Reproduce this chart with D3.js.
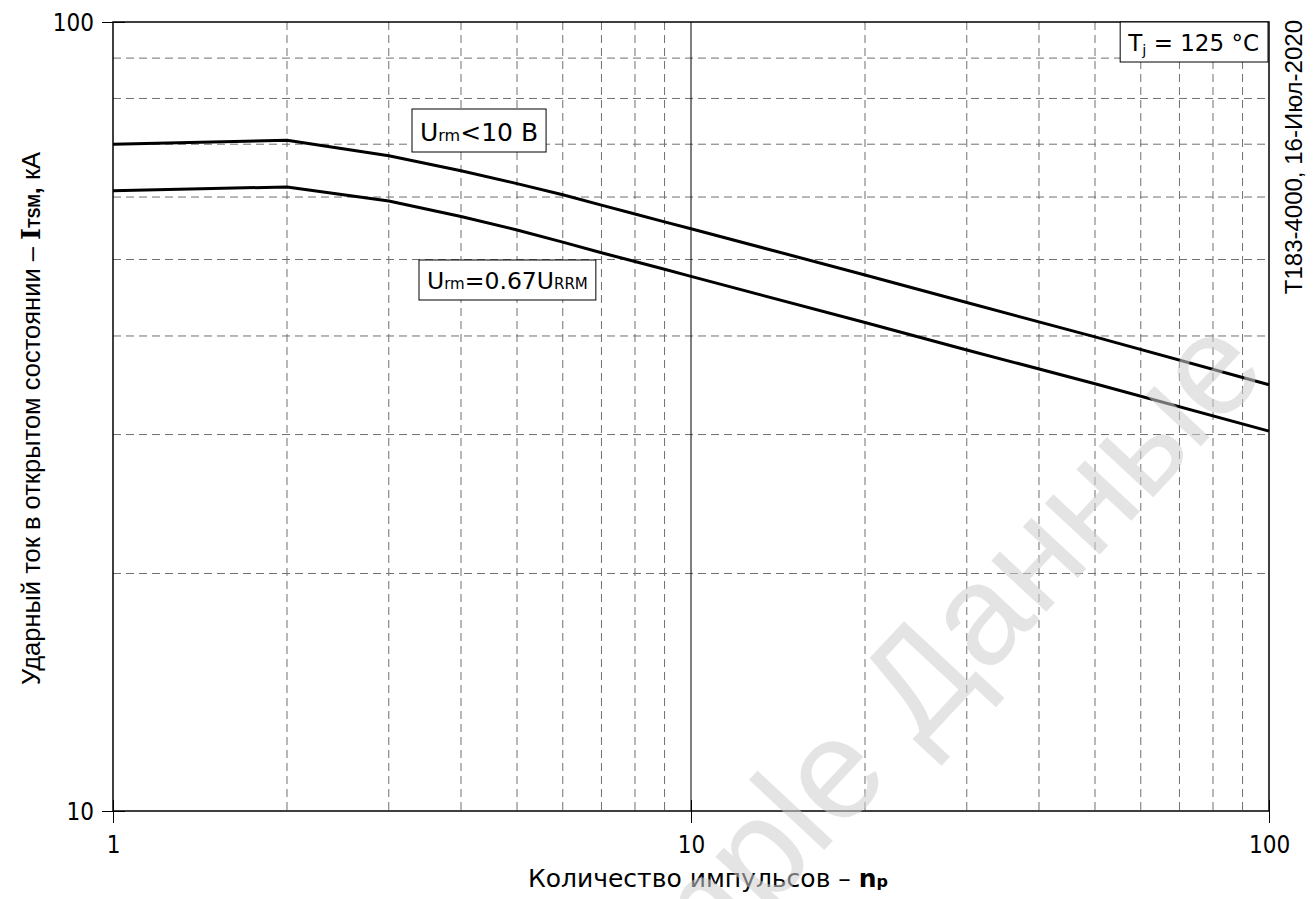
<!DOCTYPE html>
<html>
<head>
<meta charset="utf-8">
<script src="https://cdn.jsdelivr.net/npm/d3@7"></script>
<style>
  body { margin: 0; background: #fff; }
  svg { display: block; }
  .tick-label { font-family: "DejaVu Sans Condensed", "DejaVu Sans", sans-serif; font-size: 24px; fill: #000; }
</style>
</head>
<body>
<svg id="canvas" width="1314" height="899"></svg>
<script>
// number of pulses
let pulses = [1, 2, 3, 4, 5, 6, 7, 8, 9, 10, 20, 30, 50, 100];
// surge current, kA, Urm < 10 V
let itsmLow = [70.0, 70.8, 67.7, 64.8, 62.4, 60.4, 58.6, 57.1, 55.8, 54.7, 47.8, 44.1, 39.9, 34.7];
// surge current, kA, Urm = 0.67 URRM
let itsmHigh = [61.1, 61.8, 59.3, 56.7, 54.5, 52.6, 51.0, 49.7, 48.6, 47.6, 41.6, 38.4, 34.8, 30.3];

let xTicks = [1, 10, 100];
let yTicks = [10, 100];
let xGrid = [2, 3, 4, 5, 6, 7, 8, 9, 20, 30, 40, 50, 60, 70, 80, 90];
let yGrid = [20, 30, 40, 50, 60, 70, 80, 90];

let margin = { left: 113, top: 22, right: 45, bottom: 88 };
let width = 1314, height = 899;

let canvas = d3.select("#canvas");

let xScale = d3.scaleLog().domain([1, 100]).range([margin.left, width - margin.right]);
let yScale = d3.scaleLog().domain([10, 100]).range([height - margin.bottom, margin.top]);

let x0 = xScale.range()[0], x1 = xScale.range()[1];
let y0 = yScale.range()[0], y1 = yScale.range()[1];

// dashed grid
canvas.append("g")
  .selectAll("line")
  .data(xGrid)
  .enter()
  .append("line")
  .attr("x1", d => xScale(d)).attr("x2", d => xScale(d))
  .attr("y1", y1).attr("y2", y0)
  .attr("stroke", "#707070").attr("stroke-width", 1)
  .attr("stroke-dasharray", "8,5");

canvas.append("g")
  .selectAll("line")
  .data(yGrid)
  .enter()
  .append("line")
  .attr("x1", x0).attr("x2", x1)
  .attr("y1", d => yScale(d)).attr("y2", d => yScale(d))
  .attr("stroke", "#707070").attr("stroke-width", 1)
  .attr("stroke-dasharray", "8,5");

// solid decade line at 10 and the frame
canvas.append("line")
  .attr("x1", xScale(10)).attr("x2", xScale(10))
  .attr("y1", y1).attr("y2", y0)
  .attr("stroke", "#000").attr("stroke-width", 1);

canvas.append("rect")
  .attr("x", x0).attr("y", y1)
  .attr("width", x1 - x0).attr("height", y0 - y1)
  .attr("fill", "none").attr("stroke", "#000").attr("stroke-width", 1.5);

// axes
let xAxis = d3.axisBottom(xScale)
  .tickValues(xTicks)
  .tickFormat(d3.format("d"))
  .tickSize(12)
  .tickPadding(8);
let gx = canvas.append("g")
  .attr("transform", "translate(0," + y0 + ")")
  .call(xAxis);
gx.select(".domain").remove();
gx.selectAll(".tick line").attr("stroke", "#000").attr("y1", -11);
gx.selectAll(".tick text").attr("class", "tick-label").attr("dy", "0.92em");

let yAxis = d3.axisLeft(yScale)
  .tickValues(yTicks)
  .tickFormat(d3.format("d"))
  .tickSize(11)
  .tickPadding(8);
let gy = canvas.append("g")
  .attr("transform", "translate(" + x0 + ",0)")
  .call(yAxis);
gy.select(".domain").remove();
gy.selectAll(".tick line").attr("stroke", "#000").attr("x1", 12);
gy.selectAll(".tick text").attr("class", "tick-label").attr("dy", "0.35em");

// curves
let line = d3.line()
  .x((d, i) => xScale(pulses[i]))
  .y(d => yScale(d));

[itsmLow, itsmHigh].forEach(series => {
  canvas.append("path")
    .datum(series)
    .attr("d", line)
    .attr("fill", "none")
    .attr("stroke", "#000")
    .attr("stroke-width", 3)
    .attr("stroke-linejoin", "round");
});

// boxed labels
let font = '"DejaVu Sans", sans-serif';
let boxedLabel = (x, y, h, size, parts) => {
  let g = canvas.append("g");
  let bg = g.append("rect");
  let t = g.append("text")
    .attr("x", x + 8).attr("y", y + h - 11)
    .attr("font-family", font).attr("font-size", size)
    .attr("fill", "#000");
  parts.forEach(p => {
    t.append("tspan")
      .attr("font-size", p.sub ? size * 0.64 : size)
      .attr("dy", p.dy || 0)
      .text(p.text);
  });
  let bb = t.node().getBBox();
  bg.attr("x", x).attr("y", y)
    .attr("width", bb.width + 16).attr("height", h)
    .attr("fill", "#fff").attr("stroke", "#000").attr("stroke-width", 1);
  return g;
};

boxedLabel(412, 109, 43, 25, [
  { text: "U" }, { text: "rm", sub: true }, { text: "<10 B" }
]);
boxedLabel(419, 260, 40, 23.5, [
  { text: "U" }, { text: "rm", sub: true }, { text: "=0.67U" }, { text: "RRM", sub: true }
]);
let tj = boxedLabel(0, 0, 40, 23, [
  { text: "T" }, { text: "j", sub: true, dy: 4 }, { text: " = 125 °C", dy: -4 }
]);
let tjw = +tj.select("rect").attr("width");
tj.attr("transform", "translate(" + (x1 - 1 - tjw) + "," + y1 + ")");

// axis titles
canvas.append("text")
  .attr("x", 708).attr("y", 887)
  .attr("text-anchor", "middle")
  .attr("font-family", font).attr("font-size", 25)
  .call(t => {
    t.append("tspan").text("Количество импульсов  – ");
    t.append("tspan").attr("font-weight", "bold").text("n");
    t.append("tspan").attr("font-weight", "bold").attr("font-size", 16).text("p");
  });

canvas.append("text")
  .attr("transform", "translate(40," + ((y0 + y1) / 2 + 2) + ") rotate(-90)")
  .attr("text-anchor", "middle")
  .attr("font-family", '"Liberation Sans", Arial, sans-serif').attr("font-size", 25.5)
  .call(t => {
    t.append("tspan").text("Ударный ток в открытом состоянии – ");
    t.append("tspan").attr("font-weight", "bold").attr("font-family", '"DejaVu Serif", serif').text("I");
    t.append("tspan").attr("font-weight", "bold").attr("font-size", 16).text("TSM");
    t.append("tspan").attr("font-weight", "bold").text(", ");
    t.append("tspan").text("кА");
  });

canvas.append("text")
  .attr("transform", "translate(1302,20) rotate(-90)")
  .attr("text-anchor", "end")
  .attr("font-family", '"Liberation Sans", Arial, sans-serif').attr("font-size", 24)
  .text("Т183-4000, 16-Июл-2020");

// watermark
canvas.append("text")
  .attr("transform", "translate(1270,372) rotate(-47)")
  .attr("text-anchor", "end")
  .attr("font-family", '"Liberation Sans", Arial, sans-serif').attr("font-size", 142)
  .attr("fill", "#cfcfcf").attr("opacity", 0.55)
  .text("Sample Данные");
</script>
</body>
</html>
